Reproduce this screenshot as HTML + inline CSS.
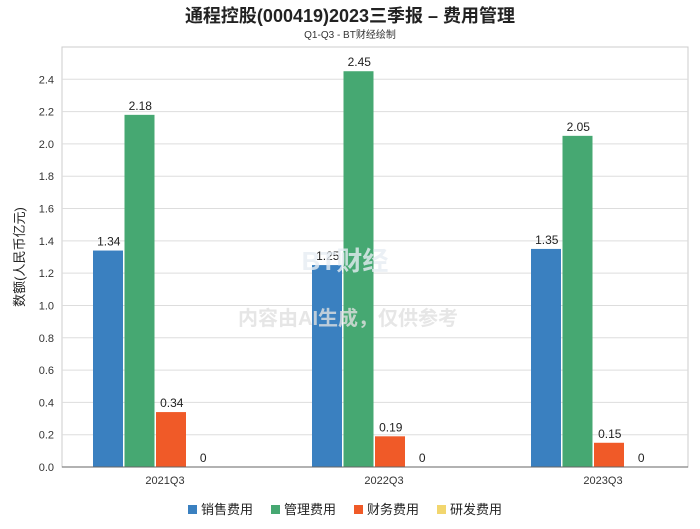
<!DOCTYPE html>
<html><head><meta charset="utf-8"><style>
body{margin:0;background:#fff;font-family:"Liberation Sans","Noto Sans CJK SC",sans-serif;}
</style></head><body>
<svg width="700" height="524" xmlns="http://www.w3.org/2000/svg">
<text x="350" y="22" text-anchor="middle" font-size="18" font-weight="bold" fill="#222">通程控股(000419)2023三季报 – 费用管理</text>
<text x="350" y="38" text-anchor="middle" font-size="10" fill="#333">Q1-Q3 - BT财经绘制</text>
<g id="grid"></g>
<g id="bars"></g>
<g id="axes"></g>
<text x="345" y="270" text-anchor="middle" font-size="26" font-weight="bold" fill="#e6ecf2" fill-opacity="0.8">BT财经</text>
<text x="348" y="325" text-anchor="middle" font-size="20" font-weight="bold" fill="#e0e0e0" fill-opacity="0.8">内容由AI生成，仅供参考</text>
<text transform="translate(24,257) rotate(-90)" text-anchor="middle" font-size="13" fill="#222">数额(人民币亿元)</text>
<g id="legend"></g>
</svg>
<script>
const categories=["2021Q3","2022Q3","2023Q3"];
const seriesNames=["销售费用","管理费用","财务费用","研发费用"];
const sales=[1.34,1.25,1.35];
const admin=[2.18,2.45,2.05];
const finance=[0.34,0.19,0.15];
const rnd=[0,0,0];
const yTicks=[0,0.2,0.4,0.6,0.8,1.0,1.2,1.4,1.6,1.8,2.0,2.2,2.4];
const colors=["#3a80c0","#46a872","#f05a28","#f2d66e"];
const NS="http://www.w3.org/2000/svg";
const L=62,R=688,T=47,B=467,yMax=2.6;
function y(v){return B-(v/yMax)*(B-T);}
function cx(i){return 165+i*219;}
function mk(tag,a,p){const e=document.createElementNS(NS,tag);for(const k in a)e.setAttribute(k,a[k]);p.appendChild(e);return e;}
const grid=document.getElementById('grid'),bars=document.getElementById('bars'),axes=document.getElementById('axes'),leg=document.getElementById('legend');
mk('rect',{x:L,y:T,width:R-L,height:B-T,fill:'none',stroke:'#ccc'},grid);
yTicks.forEach(t=>{
  const l=mk('line',{x1:L,x2:R,y1:y(t),y2:y(t),stroke:'#ddd'},grid);
  
  
  const tx=mk('text',{x:L-8,y:y(t)+4,'text-anchor':'end','font-size':11,fill:'#333'},axes);
  tx.textContent=t.toFixed(1);
  
  
});
mk('line',{x1:L,x2:R,y1:B,y2:B,stroke:'#666'},axes);
const series=[sales,admin,finance,rnd];
const bw=31.5;
categories.forEach((c,i)=>{
  const t=mk('text',{x:cx(i),y:B+17,'text-anchor':'middle','font-size':11,fill:'#333'},axes);
  t.textContent=c;
  
  
  series.forEach((s,j)=>{
    const x0=cx(i)-72+j*bw;
    const v=s[i];
    const r=mk('rect',{x:x0,y:y(v),width:bw-1.5,height:B-y(v),fill:colors[j]},bars);
    
    
    const lb=mk('text',{x:x0+bw/2,y:y(v)-5,'text-anchor':'middle','font-size':12,fill:'#222'},bars);
    lb.textContent=v===0?'0':v.toFixed(2);
    
    
  });
});
const lx=[188,271,354,437];
seriesNames.forEach((n,j)=>{
  const g=mk('g',{},leg);
  
  
  mk('rect',{x:lx[j],y:505,width:9,height:9,fill:colors[j]},g);
  const t=mk('text',{x:lx[j]+13,y:514,'font-size':13,fill:'#222'},g);
  t.textContent=n;
});
</script>
</body></html>
